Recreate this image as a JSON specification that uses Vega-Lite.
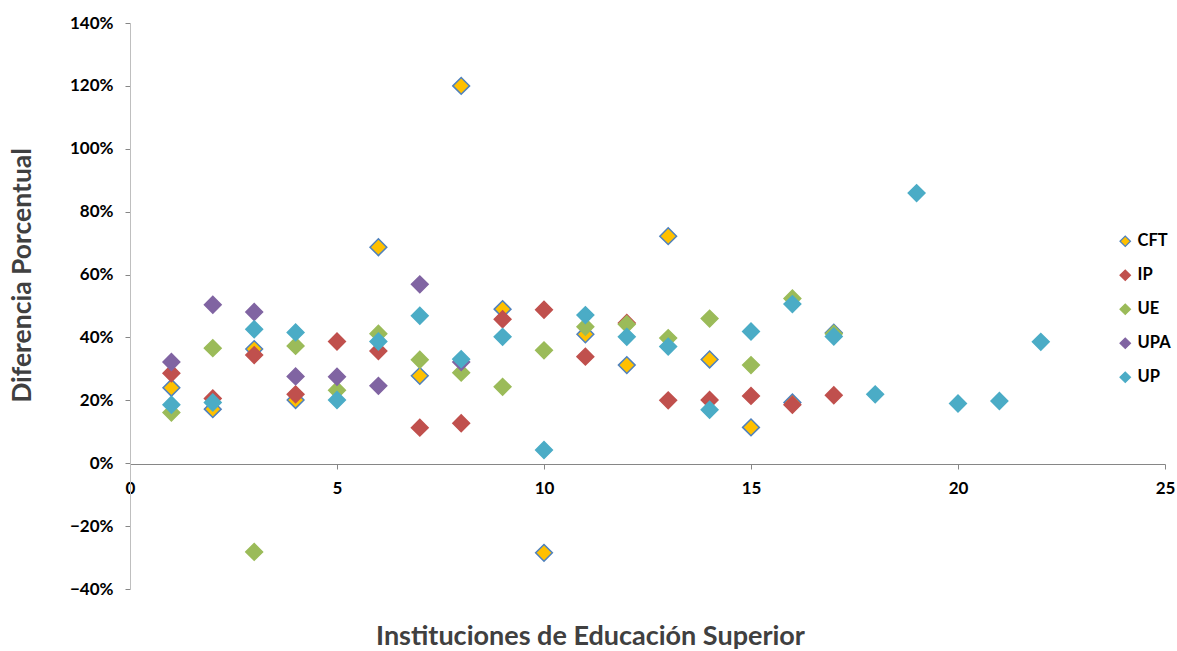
{
  "$schema": "https://vega.github.io/schema/vega-lite/v6.json",
  "width": 1035,
  "height": 566,
  "autosize": "none",
  "padding": {"left": 130, "top": 23, "right": 12, "bottom": 62},
  "background": "white",
  "config": {"view": {"stroke": null}, "font": "Lato"},
  "data": {"values": [
    {"s":"CFT","x":1,"y":0.24},{"s":"CFT","x":2,"y":0.172},{"s":"CFT","x":3,"y":0.363},{"s":"CFT","x":4,"y":0.201},
    {"s":"CFT","x":6,"y":0.687},{"s":"CFT","x":7,"y":0.278},{"s":"CFT","x":8,"y":1.2},{"s":"CFT","x":9,"y":0.49},
    {"s":"CFT","x":10,"y":-0.285},{"s":"CFT","x":11,"y":0.41},{"s":"CFT","x":12,"y":0.312},{"s":"CFT","x":13,"y":0.722},
    {"s":"CFT","x":14,"y":0.33},{"s":"CFT","x":15,"y":0.114},{"s":"CFT","x":16,"y":0.193},{"s":"CFT","x":17,"y":0.415},
    {"s":"IP","x":1,"y":0.286},{"s":"IP","x":2,"y":0.206},{"s":"IP","x":3,"y":0.344},{"s":"IP","x":4,"y":0.219},
    {"s":"IP","x":5,"y":0.387},{"s":"IP","x":6,"y":0.357},{"s":"IP","x":7,"y":0.113},{"s":"IP","x":8,"y":0.127},
    {"s":"IP","x":9,"y":0.458},{"s":"IP","x":10,"y":0.488},{"s":"IP","x":11,"y":0.339},{"s":"IP","x":12,"y":0.446},
    {"s":"IP","x":13,"y":0.2},{"s":"IP","x":14,"y":0.201},{"s":"IP","x":15,"y":0.214},{"s":"IP","x":16,"y":0.186},
    {"s":"IP","x":17,"y":0.216},
    {"s":"UE","x":1,"y":0.161},{"s":"UE","x":2,"y":0.366},{"s":"UE","x":3,"y":-0.282},{"s":"UE","x":4,"y":0.373},
    {"s":"UE","x":5,"y":0.232},{"s":"UE","x":6,"y":0.412},{"s":"UE","x":7,"y":0.329},{"s":"UE","x":8,"y":0.288},
    {"s":"UE","x":9,"y":0.243},{"s":"UE","x":10,"y":0.359},{"s":"UE","x":11,"y":0.434},{"s":"UE","x":12,"y":0.442},
    {"s":"UE","x":13,"y":0.398},{"s":"UE","x":14,"y":0.46},{"s":"UE","x":15,"y":0.312},{"s":"UE","x":16,"y":0.524},
    {"s":"UE","x":17,"y":0.412},
    {"s":"UPA","x":1,"y":0.322},{"s":"UPA","x":2,"y":0.504},{"s":"UPA","x":3,"y":0.481},{"s":"UPA","x":4,"y":0.276},
    {"s":"UPA","x":5,"y":0.275},{"s":"UPA","x":6,"y":0.246},{"s":"UPA","x":7,"y":0.569},{"s":"UPA","x":8,"y":0.322},
    {"s":"UP","x":1,"y":0.186},{"s":"UP","x":2,"y":0.193},{"s":"UP","x":3,"y":0.426},{"s":"UP","x":4,"y":0.416},
    {"s":"UP","x":5,"y":0.201},{"s":"UP","x":6,"y":0.387},{"s":"UP","x":7,"y":0.469},{"s":"UP","x":8,"y":0.331},
    {"s":"UP","x":9,"y":0.402},{"s":"UP","x":10,"y":0.042},{"s":"UP","x":11,"y":0.471},{"s":"UP","x":12,"y":0.402},
    {"s":"UP","x":13,"y":0.371},{"s":"UP","x":14,"y":0.17},{"s":"UP","x":15,"y":0.419},{"s":"UP","x":16,"y":0.506},
    {"s":"UP","x":17,"y":0.403},{"s":"UP","x":18,"y":0.219},{"s":"UP","x":19,"y":0.859},{"s":"UP","x":20,"y":0.19},
    {"s":"UP","x":21,"y":0.198},{"s":"UP","x":22,"y":0.386}
  ]},
  "mark": {"type": "point", "shape": "diamond", "filled": true, "size": 280, "opacity": 1, "strokeWidth": 1.5},
  "encoding": {
    "x": {"field": "x", "type": "quantitative",
      "scale": {"domain": [0, 25], "nice": false, "zero": false},
      "axis": {"values": [0,5,10,15,20,25], "offset": -125, "grid": false,
        "domainColor": "#868686", "tickColor": "#868686", "tickSize": 5,
        "labelFont": "Lato", "labelFontWeight": "bold", "labelFontSize": 17, "labelColor": "#000000", "labelPadding": 11,
        "labelFlush": false,
        "title": "Instituciones de Educación Superior", "titleFont": "Lato", "titleFontSize": 27, "titleFontWeight": "bold",
        "titleColor": "#404040", "titleX": 460, "titleY": 172, "titleBaseline": "middle", "titleAlign": "center"}},
    "y": {"field": "y", "type": "quantitative",
      "scale": {"domain": [-0.4, 1.4], "nice": false, "zero": false},
      "axis": {"values": [-0.4,-0.2,0,0.2,0.4,0.6,0.8,1.0,1.2,1.4], "format": ".0%", "grid": false,
        "domainColor": "#bfbfbf", "tickColor": "#868686", "tickSize": 5,
        "labelFont": "Lato", "labelFontWeight": "bold", "labelFontSize": 17, "labelColor": "#000000", "labelPadding": 12,
        "labelFlush": false,
        "title": "Diferencia Porcentual", "titleFont": "Lato", "titleFontSize": 26.5, "titleFontWeight": "bold",
        "titleColor": "#404040", "titleX": -108, "titleY": 252, "titleAngle": -90, "titleBaseline": "middle", "titleAlign": "center"}},
    "fill": {"field": "s", "type": "nominal",
      "scale": {"domain": ["CFT","IP","UE","UPA","UP"], "range": ["#FFC000","#C0504D","#9BBB59","#8064A2","#4BACC6"]},
      "legend": {"title": null, "orient": "none", "legendX": 987, "legendY": 210, "symbolSize": 110, "symbolType": "diamond",
        "labelFont": "Lato", "labelFontSize": 16.5, "labelFontWeight": "bold", "labelColor": "#000000", "rowPadding": 17, "labelOffset": 4, "symbolStrokeWidth": 1.2}},
    "stroke": {"field": "s", "type": "nominal",
      "scale": {"domain": ["CFT","IP","UE","UPA","UP"], "range": ["#4F81BD","#C0504D","#9BBB59","#8064A2","#4BACC6"]},
      "legend": {"title": null, "orient": "none", "legendX": 987, "legendY": 210, "symbolSize": 110, "symbolType": "diamond",
        "labelFont": "Lato", "labelFontSize": 16.5, "labelFontWeight": "bold", "labelColor": "#000000", "rowPadding": 17, "labelOffset": 4, "symbolStrokeWidth": 1.2}}
  }
}
